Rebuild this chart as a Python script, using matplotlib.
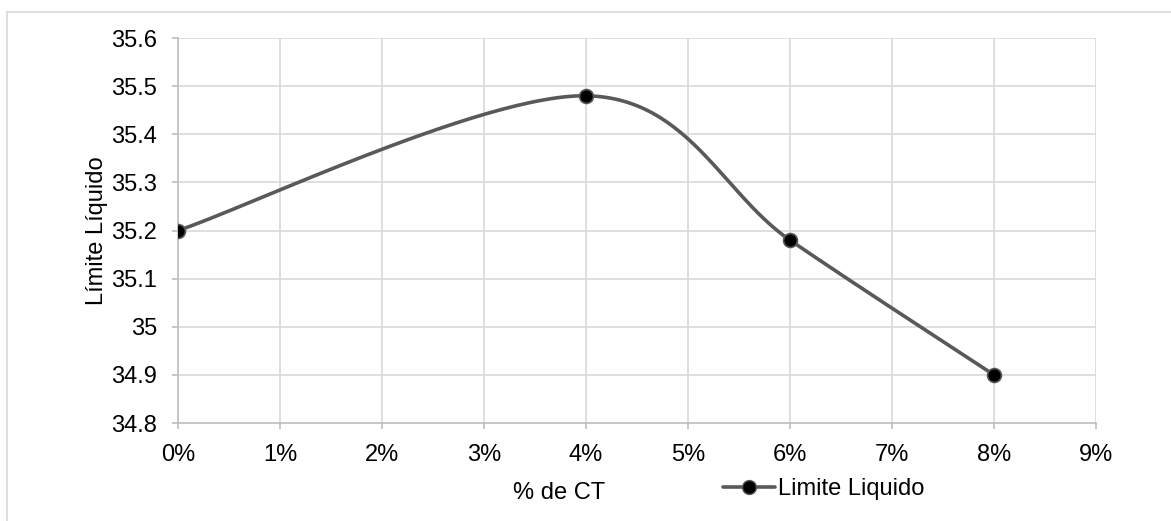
import numpy as np
import matplotlib.pyplot as plt
from matplotlib.ticker import FuncFormatter, MultipleLocator

plt.rcParams['font.family'] = ['Liberation Sans', 'DejaVu Sans']

# Liquid limit vs. CT content
ct_pct = [0, 4, 6, 8]
limite_liquido = [35.2, 35.48, 35.18, 34.9]

x_lim = (0, 9)
y_lim = (34.8, 35.6)
fs = 17


def smooth_curve(xs, ys, sx, sy, n=60):
    # Excel-style smoothed line: cubic Bezier with Catmull-Rom control points
    px = np.array(xs, float) / sx
    py = np.array(ys, float) / sy
    pts = np.column_stack([px, py])
    pts = np.vstack([pts[0], pts, pts[-1]])
    out = []
    t = np.linspace(0, 1, n)[:, None]
    for i in range(1, len(pts) - 2):
        p0, p1, p2, p3 = pts[i - 1], pts[i], pts[i + 1], pts[i + 2]
        c1 = p1 + (p2 - p0) / 6
        c2 = p2 - (p3 - p1) / 6
        seg = ((1 - t) ** 3) * p1 + 3 * ((1 - t) ** 2) * t * c1 + 3 * (1 - t) * t ** 2 * c2 + t ** 3 * p2
        out.append(seg)
    out = np.vstack(out)
    return out[:, 0] * sx, out[:, 1] * sy


fig = plt.figure(figsize=(11.71, 5.21), dpi=100)
ax = fig.add_axes([0.152, 0.188, 0.784, 0.739])

# scale so smoothing happens in roughly screen-proportional units
sx = (x_lim[1] - x_lim[0]) / 918
sy = (y_lim[1] - y_lim[0]) / 385
cx, cy = smooth_curve(ct_pct, limite_liquido, sx, sy)

line_col = '#595959'
ax.plot(cx, cy, color=line_col, lw=2.6, solid_capstyle='round', zorder=3)
ax.plot(ct_pct, limite_liquido, ls='none', marker='o', ms=10,
        mfc='black', mec=line_col, mew=1.2, zorder=4)

ax.set_xlim(*x_lim)
ax.set_ylim(*y_lim)
ax.xaxis.set_major_locator(MultipleLocator(1))
ax.yaxis.set_major_locator(MultipleLocator(0.1))
ax.xaxis.set_major_formatter(FuncFormatter(lambda v, p: f'{v:.0f}%'))
ax.yaxis.set_major_formatter(FuncFormatter(lambda v, p: '35' if abs(v - 35) < 1e-6 else f'{v:.1f}'))

ax.grid(True, color='#D9D9D9', lw=1.2)
ax.set_axisbelow(True)
for side in ['top', 'right']:
    ax.spines[side].set_visible(False)
for side in ['left', 'bottom']:
    ax.spines[side].set_color('#BFBFBF')
    ax.spines[side].set_linewidth(1.2)
ax.tick_params(axis='both', colors='#BFBFBF', labelcolor='black', labelsize=fs,
               length=4, width=1.2)
ax.tick_params(axis='x', pad=11)
ax.tick_params(axis='y', pad=11)

ax.set_ylabel('Límite Líquido', fontsize=fs, labelpad=2)
fig.text(559 / 1171, 1 - 493 / 521, '% de CT', fontsize=fs, ha='center', va='center')

# legend sits on the same row as the x label
leg = fig.legend(handles=[ax.lines[0]], labels=['Limite Liquido'], frameon=False,
                 loc='center left', bbox_to_anchor=(714 / 1171, 1 - 489 / 521),
                 fontsize=fs, handlelength=2.2, handletextpad=0.1, borderaxespad=0)
leg.legend_handles[0].set_marker('o')
leg.legend_handles[0].set_markersize(10)
leg.legend_handles[0].set_markerfacecolor('black')
leg.legend_handles[0].set_markeredgecolor(line_col)

# chart area border (left and top edges)
fig.add_artist(plt.Line2D([7 / 1171, 7 / 1171], [0, 1 - 12 / 521], color='#D9D9D9', lw=1.2))
fig.add_artist(plt.Line2D([7 / 1171, 1], [1 - 12 / 521, 1 - 12 / 521], color='#D9D9D9', lw=1.2))

fig.savefig('out.png', dpi=100)
